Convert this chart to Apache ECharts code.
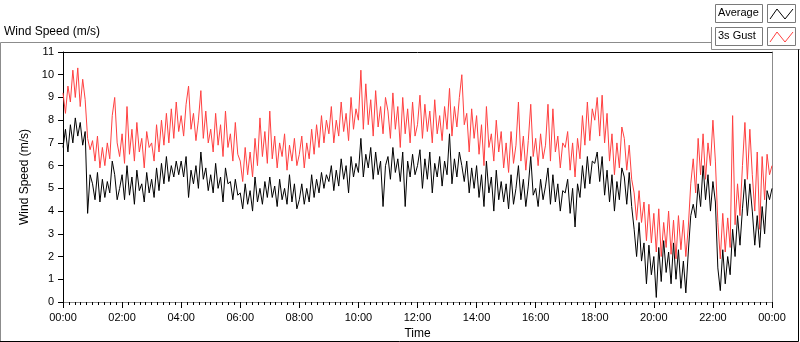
<!DOCTYPE html>
<html>
<head>
<meta charset="utf-8">
<script src="https://cdn.jsdelivr.net/npm/echarts@6/dist/echarts.min.js"></script>
<style>
html, body { margin: 0; padding: 0; background: #fff; }
#chart { width: 800px; height: 342px; }
</style>
</head>
<body>
<div id="chart"></div>
<script>
// samples every 5 minutes, 00:00 .. 24:00
var stepMinutes = 5;
var tickLabels = ['00:00', '02:00', '04:00', '06:00', '08:00', '10:00', '12:00',
                  '14:00', '16:00', '18:00', '20:00', '22:00', '00:00'];
var seriesNames = ['Average', '3s Gust'];

var gust = [
    9.2, 8.3, 9.5, 8.8, 10.2, 9.0, 10.3, 8.6, 9.8, 8.9, 7.2, 6.7,
    7.1, 6.2, 7.3, 5.9, 6.8, 6.0, 7.0, 6.3, 8.2, 9.0, 7.0, 6.4,
    7.4, 6.1, 8.6, 6.5, 7.6, 6.2, 7.9, 6.6, 7.2, 5.9, 7.5, 6.8,
    7.0, 6.2, 7.8, 6.6, 8.0, 6.9, 8.3, 7.0, 8.5, 7.2, 8.8, 7.5,
    8.2, 7.3, 8.7, 9.5, 7.6, 8.3, 7.1, 8.0, 9.3, 7.2, 8.4, 7.0,
    7.6, 6.6, 8.3, 6.9, 7.8, 6.4, 8.4, 6.8, 7.4, 6.2, 7.9, 6.5,
    6.2, 5.3, 6.8, 5.6, 6.6, 5.5, 7.2, 6.0, 8.1, 6.4, 7.5, 6.1,
    8.4, 6.3, 7.3, 5.9, 7.0, 6.4, 7.4, 5.8, 6.9, 6.2, 7.2, 6.0,
    6.5, 7.3, 5.9, 7.0, 6.3, 7.6, 6.5, 7.8, 6.8, 8.2, 7.0, 8.0,
    7.4, 8.6, 7.0, 8.0, 7.3, 8.8, 7.5, 8.3, 7.1, 9.0, 7.6, 8.5,
    8.0, 10.2, 7.6, 9.6, 7.8, 8.9, 7.3, 9.3, 7.7, 8.6, 7.4, 9.0,
    8.4, 7.2, 9.2, 7.6, 8.6, 6.8, 9.0, 7.4, 8.5, 7.0, 8.8, 7.3,
    7.8, 9.1, 7.2, 8.7, 7.5, 8.4, 7.0, 8.9, 7.4, 8.2, 7.1, 8.6,
    7.6, 9.4, 7.3, 8.6, 7.7, 9.0, 10.0, 7.8, 8.3, 6.6, 8.5, 7.2,
    8.2, 6.5, 7.8, 6.0, 8.6, 6.8, 7.4, 6.2, 8.0, 6.6, 7.5, 5.9,
    7.0, 5.7, 7.5, 6.1, 6.9, 8.8, 6.2, 7.3, 5.8, 7.1, 8.7, 6.4,
    7.2, 6.0, 7.4, 6.3, 6.9, 8.7, 6.2, 8.5, 6.6, 7.3, 5.9, 7.0,
    6.8, 7.5, 5.8, 7.0, 5.5, 7.2, 6.3, 8.2, 6.9, 8.8, 7.1, 8.5,
    8.0, 9.0, 7.3, 9.1, 7.0, 8.3, 6.2, 7.4, 5.6, 7.0, 5.9, 7.7,
    7.2, 5.8, 6.9, 5.4, 4.8, 3.6, 4.9, 3.5, 4.4, 2.7, 4.3, 2.6,
    3.9, 2.2, 4.1, 2.0, 3.5, 2.4, 4.0, 2.1, 3.6, 1.9, 3.8, 2.3,
    3.6, 2.0, 3.3, 5.2, 6.3, 4.8, 7.2, 5.6, 7.4, 5.4, 7.0, 6.0,
    8.0, 6.2, 3.5, 1.9, 3.9, 2.2, 3.7, 2.4, 8.2, 3.4, 5.2, 3.8,
    6.0, 7.9, 5.4, 7.6, 5.6, 4.0, 6.6, 3.2, 6.4, 4.5, 6.5, 5.6,
    6.0
];

var average = [
    6.8, 7.6, 6.6, 7.8, 7.0, 8.1, 7.3, 7.9, 6.9, 7.5, 3.9, 5.6,
    5.2, 4.5, 5.7, 4.4, 5.4, 4.6, 5.3, 4.8, 6.2, 5.6, 4.5, 5.0,
    5.6, 4.5, 6.0, 4.7, 5.5, 4.3, 5.8, 4.9, 5.2, 4.4, 5.7, 4.8,
    5.4, 4.6, 5.9, 4.9, 6.1, 5.2, 6.4, 5.3, 6.0, 5.5, 6.2, 5.6,
    6.2, 5.5, 6.4, 4.6, 5.8, 5.2, 6.0, 5.0, 6.6, 5.4, 5.9, 4.9,
    5.6, 4.8, 6.1, 5.0, 5.5, 4.4, 5.9, 5.2, 5.3, 4.5, 5.4, 4.7,
    4.8, 4.1, 5.2, 4.3, 4.9, 4.0, 5.5, 4.4, 5.0, 4.3, 5.3, 4.6,
    5.5, 4.6, 5.1, 4.2, 5.4, 4.5, 5.0, 4.3, 5.6, 4.4, 5.2, 4.1,
    4.5, 5.2, 4.3, 5.0, 4.4, 5.6, 4.6, 5.4, 4.8, 5.7, 5.0, 5.6,
    5.3, 6.0, 4.9, 5.8, 5.1, 6.3, 5.4, 6.0, 4.8, 6.4, 5.5, 6.1,
    5.7, 7.2, 5.5, 6.5, 5.9, 6.8, 5.4, 6.6, 5.6, 6.2, 4.2, 6.0,
    6.4, 5.4, 6.8, 5.7, 6.3, 5.3, 6.6, 4.2, 6.2, 5.5, 6.5, 5.6,
    6.0, 6.7, 5.0, 6.3, 5.4, 6.6, 4.8, 6.1, 5.5, 6.4, 5.1, 6.2,
    5.6, 7.4, 5.2, 6.3, 5.5, 6.6, 6.0, 5.3, 6.2, 4.8, 5.9, 5.0,
    6.0, 4.6, 5.6, 4.2, 6.2, 4.8, 5.5, 4.0, 5.8, 4.5, 5.3, 4.4,
    5.2, 4.1, 5.6, 4.3, 5.0, 6.0, 4.5, 5.4, 4.2, 5.1, 6.4, 4.7,
    5.0, 4.2, 5.4, 4.5, 5.1, 5.9, 4.3, 5.6, 4.4, 5.2, 4.0, 4.9,
    4.8, 5.4, 3.9, 5.0, 3.3, 5.2, 4.6, 6.0, 5.0, 6.4, 5.2, 6.2,
    6.1, 6.6, 5.3, 6.4, 4.7, 5.8, 4.4, 5.6, 4.0, 5.3, 4.5, 5.9,
    5.5, 4.3, 5.7, 4.2, 3.2, 2.0, 3.5, 1.8, 2.6, 0.8, 2.5, 1.2,
    2.0, 0.2, 2.4, 0.9, 2.7, 1.3, 2.2, 0.8, 2.6, 1.0, 2.3, 0.6,
    1.8, 0.4, 2.2, 3.8, 4.3, 3.7, 5.2, 4.2, 6.0, 4.5, 5.6, 4.0,
    5.3, 4.4, 1.5, 0.5, 2.3, 0.8, 2.0, 1.2, 3.2, 2.0, 3.8, 2.5,
    4.1, 5.4, 3.8, 5.2, 4.0, 2.5, 3.8, 2.4, 4.2, 3.0, 4.9, 4.5,
    5.0
];

function toPoints(values) {
    return values.map(function (v, i) { return [i * stepMinutes, v]; });
}

var chart = echarts.init(document.getElementById('chart'));
var font = 'Liberation Sans';

var legendRows = [
    { name: seriesNames[0], color: '#000000', y: 4 },
    { name: seriesNames[1], color: '#ff4040', y: 27 }
];
var graphics = [
    // sunken outer frame
    { type: 'polyline', shape: { points: [[0.5, 341], [0.5, 42.5], [711.5, 42.5]] },
      style: { stroke: '#8c8c8c', lineWidth: 1, fill: null } },
    { type: 'polyline', shape: { points: [[711.5, 27], [711.5, 49.5], [800, 49.5]] },
      style: { stroke: '#8c8c8c', lineWidth: 1, fill: null } },
    { type: 'polyline', shape: { points: [[0, 341.5], [798.5, 341.5], [798.5, 49.5]] },
      style: { stroke: '#000', lineWidth: 1, fill: null } },
    { type: 'text', left: 4, top: 26,
      style: { text: 'Wind Speed (m/s)', font: '12px "Liberation Sans"', fill: '#000' } }
];
legendRows.forEach(function (r) {
    graphics.push({ type: 'rect', shape: { x: 715.5, y: r.y + 0.5, width: 47, height: 18 },
        style: { fill: '#fff', stroke: '#7a7a7a', lineWidth: 1 } });
    graphics.push({ type: 'text', left: 718, top: r.y + 3,
        style: { text: r.name, font: '11px "Liberation Sans"', fill: '#000' } });
    graphics.push({ type: 'rect', shape: { x: 767.5, y: r.y + 0.5, width: 28, height: 18 },
        style: { fill: '#fff', stroke: '#7a7a7a', lineWidth: 1 } });
    graphics.push({ type: 'polyline',
        shape: { points: [[770, r.y + 15], [777, r.y + 5], [785, r.y + 15], [793, r.y + 5]] },
        style: { stroke: r.color, lineWidth: 1, fill: null } });
});

var option = {
    animation: false,
    backgroundColor: '#fff',
    textStyle: { fontFamily: font },
    grid: { left: 63, top: 52, right: 28, bottom: 40, show: false, containLabel: false, outerBoundsMode: 'none' },
    graphic: graphics,
    xAxis: [{
        type: 'value',
        min: 0, max: 1440, interval: 120,
        name: 'Time', nameLocation: 'middle', nameGap: 26,
        nameTextStyle: { color: '#000', fontSize: 12, fontFamily: font },
        axisLine: { show: true, onZero: false, lineStyle: { color: '#8c8c8c', width: 1 } },
        axisTick: { show: true, inside: false, length: 6, lineStyle: { color: '#000' } },
        minorTick: { show: true, splitNumber: 10, length: 3, lineStyle: { color: '#000' } },
        axisLabel: {
            color: '#000', fontSize: 11, fontFamily: font, margin: 10,
            formatter: function (v) { return tickLabels[Math.round(v / 120)]; }
        },
        splitLine: { show: false }
    }, {
        type: 'value', position: 'top', min: 0, max: 1440,
        axisLine: { show: true, onZero: false, lineStyle: { color: '#000' } },
        axisTick: { show: false }, axisLabel: { show: false }, splitLine: { show: false }
    }],
    yAxis: [{
        type: 'value',
        min: 0, max: 11, interval: 1,
        name: 'Wind Speed (m/s)', nameLocation: 'middle', nameGap: 26,
        nameTextStyle: { color: '#000', fontSize: 12, fontFamily: font },
        axisLine: { show: true, onZero: false, lineStyle: { color: '#000', width: 1 } },
        axisTick: { show: true, inside: false, length: 5, lineStyle: { color: '#000' } },
        axisLabel: { color: '#000', fontSize: 11, fontFamily: font, margin: 9 },
        splitLine: { show: false }
    }, {
        type: 'value', position: 'right', min: 0, max: 11,
        axisLine: { show: true, onZero: false, lineStyle: { color: '#8c8c8c' } },
        axisTick: { show: false }, axisLabel: { show: false }, splitLine: { show: false }
    }],
    series: [{
        name: seriesNames[1],
        type: 'line',
        data: toPoints(gust),
        showSymbol: false,
        lineStyle: { color: '#ff4040', width: 1 },
        itemStyle: { color: '#ff4040' }
    }, {
        name: seriesNames[0],
        type: 'line',
        data: toPoints(average),
        showSymbol: false,
        lineStyle: { color: '#000', width: 1 },
        itemStyle: { color: '#000' }
    }]
};
chart.setOption(option);
</script>
</body>
</html>
